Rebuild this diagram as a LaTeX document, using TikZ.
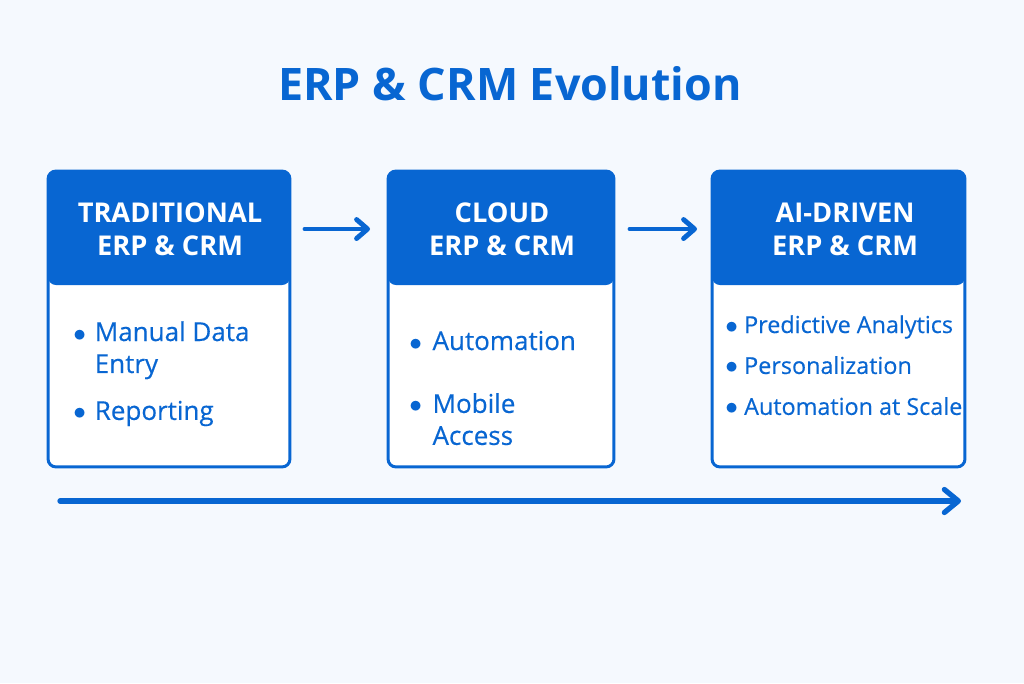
\documentclass[tikz,border=0pt]{standalone}
\usepackage{fontspec}
\setmainfont{Open Sans}
\newfontfamily\itemfont{Open Sans}[FakeBold=0.35]
\usetikzlibrary{arrows.meta,positioning}

\definecolor{erpblue}{RGB}{8,102,210}
\definecolor{pagebg}{RGB}{245,249,254}

\tikzset{
  stagebox/.style={draw=erpblue, line width=1.7pt, fill=white,
    rounded corners=0.16cm, outer sep=0pt, inner sep=0pt, minimum height=5.92cm,
    path picture={\fill[erpblue] (path picture bounding box.north west)
      rectangle ([yshift=-2.28cm]path picture bounding box.north east);}},
  headtext/.style={text=white, font=\fontsize{15.5}{18.8}\selectfont\bfseries, align=center},
  itemtext/.style={text=erpblue, font=\itemfont\fontsize{14.8}{18.2}\selectfont,
    anchor=base west, inner sep=0pt},
  flow/.style={draw=erpblue, line width=2.8pt, line cap=round,
    -{Straight Barb[length=0.22cm,width=0.38cm,line cap=round,line join=round]}},
}
\newcommand{\dotitem}{$\bullet$}

\begin{document}
\begin{tikzpicture}[x=0.02cm, y=-0.02cm]
    \fill[pagebg] (0,0) rectangle (1024,683);
    \useasboundingbox (0,0) rectangle (1024,683);
    \node[text=erpblue, font=\fontsize{25.5}{30}\selectfont\bfseries] (title) at (510,84) {ERP \& CRM Evolution};
    % the three stages
    \node[stagebox, minimum width=4.84cm] (trad) at (169,319) {};
    \node[stagebox, minimum width=4.52cm] (cloud) at (501,319) {};
    \node[stagebox, minimum width=5.06cm] (aidrv) at (838.5,319) {};
    \node[headtext] (tradhd) at (170,229) {TRADITIONAL\\ERP \& CRM};
    \node[headtext] (cloudhd) at (502,229) {CLOUD\\ERP \& CRM};
    \node[headtext] (aidrvhd) at (845,229) {AI-DRIVEN\\ERP \& CRM};
    \draw[flow, shorten <=0.3cm, shorten >=0.36cm] (trad.east |- tradhd) -- (cloud.west |- tradhd);
    \draw[flow, shorten <=0.32cm, shorten >=0.3cm] (cloud.east |- cloudhd) -- (aidrv.west |- cloudhd);
    % bullet lists
    \node[itemtext] (tradlist) at (73,341) {\begin{tabular}[t]{@{}l@{\hspace{5pt}}l@{}}
      \dotitem & Manual Data\\ & Entry\\[8.5pt] \dotitem & Reporting\end{tabular}};
    \node[itemtext] (cloudlist) at (409,350) {\begin{tabular}[t]{@{}l@{\hspace{6pt}}l@{}}
      \dotitem & Automation\\[17.6pt] \dotitem & Mobile\\ & Access\end{tabular}};
    \node[itemtext, font=\itemfont\fontsize{13.3}{18.2}\selectfont] (aidrvlist) at (725,333) {\begin{tabular}[t]{@{}l@{\hspace{3.5pt}}l@{}}
      \dotitem & Predictive Analytics\\[5.1pt] \dotitem & Personalization\\[5.1pt]
      \dotitem & Automation at Scale\end{tabular}};
    % timeline
    \coordinate (tlstart) at (60,501);
    \coordinate (tlend) at (961,501);
    \draw[flow, line width=3pt, -{Straight Barb[length=0.28cm,width=0.46cm,line cap=round,line join=round]}] (tlstart) -- (tlend);
  \end{tikzpicture}
\end{document}
